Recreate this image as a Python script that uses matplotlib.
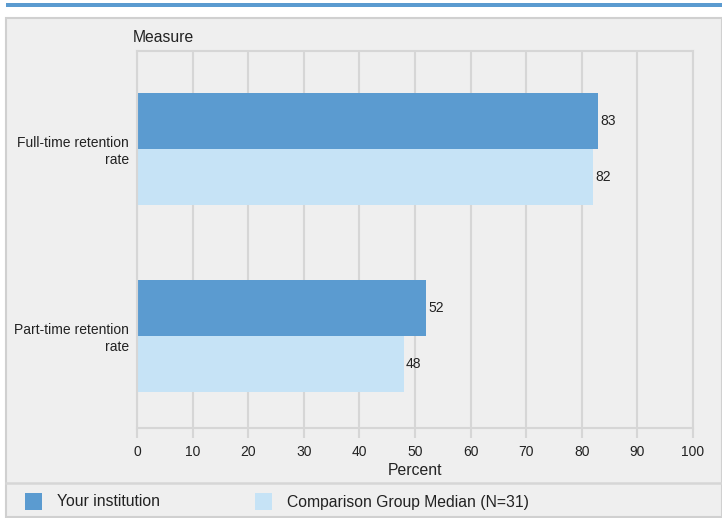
import matplotlib.pyplot as plt
from matplotlib.patches import Rectangle
from matplotlib.lines import Line2D

plt.rcParams['font.family'] = ['Liberation Sans', 'DejaVu Sans']

# retention data
measures = ["Full-time retention\nrate", "Part-time retention\nrate"]
your_institution = [83, 52]
comparison_median = [82, 48]
series_names = ["Your institution", "Comparison Group Median (N=31)"]
x_ticks = [0, 10, 20, 30, 40, 50, 60, 70, 80, 90, 100]

DARK = "#5b9bd0"
LIGHT = "#c6e3f6"
PANEL = "#efefef"
GRID = "#d6d6d6"
TXT = "#222222"

W, H = 722, 518
fig = plt.figure(figsize=(W / 100, H / 100), dpi=100)
fig.patch.set_facecolor("white")

def fx(px):
    return px / W

def fy(py):
    return 1 - py / H

# header strip and grey panel (behind the axes)
fig.add_artist(Rectangle((fx(6), fy(7)), fx(716), 4 / H, transform=fig.transFigure,
                         facecolor=DARK, edgecolor="none", zorder=-10))
fig.add_artist(Rectangle((fx(6), fy(517)), fx(716), 499 / H, transform=fig.transFigure,
                         facecolor=PANEL, edgecolor="#d0d0d0", lw=1.5, zorder=-10))
fig.add_artist(Line2D([fx(6), 1], [fy(482.5), fy(482.5)], transform=fig.transFigure,
                      color="#d6d6d6", lw=1.8, zorder=-9))

ax = fig.add_axes([fx(137), fy(428), fx(693 - 137), (428 - 51) / H])
ax.set_facecolor(PANEL)

bar_h = 0.30
pos = list(range(len(measures)))
ax.barh([p - bar_h / 2 for p in pos], your_institution, height=bar_h, color=DARK)
ax.barh([p + bar_h / 2 for p in pos], comparison_median, height=bar_h, color=LIGHT)

for p, v in zip(pos, your_institution):
    ax.text(v + 0.4, p - bar_h / 2, str(v), va="center", ha="left", fontsize=10, color=TXT)
for p, v in zip(pos, comparison_median):
    ax.text(v + 0.4, p + bar_h / 2, str(v), va="center", ha="left", fontsize=10, color=TXT)

ax.set_xlim(0, 100)
ax.set_ylim(1.492, -0.524)
ax.set_xticks(x_ticks)
ax.set_xticklabels([str(t) for t in x_ticks], fontsize=10, color=TXT)
ax.set_yticks(pos)
ax.set_yticklabels(measures, fontsize=10, color=TXT, ha="right", multialignment="right")
ax.tick_params(axis="y", length=0, pad=6)
ax.tick_params(axis="x", length=7, width=1.5, color=GRID, pad=5)
ax.set_axisbelow(True)
ax.grid(axis="x", color=GRID, lw=1.5)
for s in ax.spines.values():
    s.set_color(GRID)
    s.set_linewidth(1.5)

ax.set_xlabel("Percent", fontsize=11.3, color=TXT, labelpad=3)
fig.text(fx(133), fy(37), "Measure", fontsize=11.3, color=TXT, va="center", ha="left")

# legend
for x0, col, name in [(25, DARK, series_names[0]), (255, LIGHT, series_names[1])]:
    fig.add_artist(Rectangle((fx(x0), fy(510)), fx(17), 17 / H, transform=fig.transFigure,
                             facecolor=col, edgecolor="none"))
    fig.text(fx(x0 + 32), fy(502), name, fontsize=11.3, color=TXT, va="center", ha="left")

fig.savefig("out.png", dpi=100, facecolor=fig.get_facecolor())
